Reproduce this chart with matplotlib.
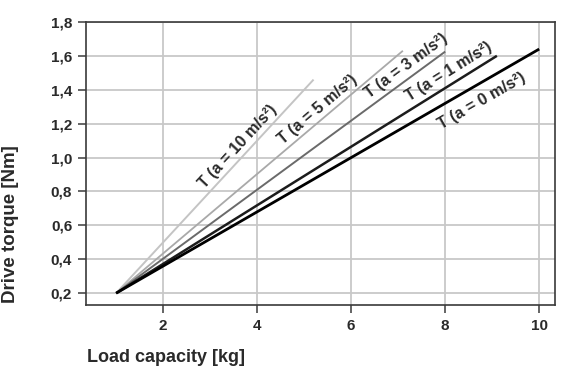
import numpy as np
import matplotlib
matplotlib.use("Agg")
import matplotlib.pyplot as plt

plt.rcParams['font.family'] = ['Liberation Sans', 'DejaVu Sans']

# curves: start / end points
labels = ["T (a = 0 m/s²)", "T (a = 1 m/s²)", "T (a = 3 m/s²)",
          "T (a = 5 m/s²)", "T (a = 10 m/s²)"]
load_start = [1.0, 1.0, 1.0, 1.0, 1.0]
load_end = [10.0, 9.1, 8.0, 7.1, 5.2]
torque_start = [0.2, 0.2, 0.2, 0.2, 0.2]
torque_end = [1.64, 1.60, 1.625, 1.63, 1.46]

xticks = [2, 4, 6, 8, 10]
yticks = [0.2, 0.4, 0.6, 0.8, 1.0, 1.2, 1.4, 1.6, 1.8]
ytick_labels = ["0,2", "0,4", "0,6", "0,8", "1,0", "1,2", "1,4", "1,6", "1,8"]

colors = ["#000000", "#1c1c1c", "#6a6a6a", "#a9a9a9", "#c4c4c4"]
widths = [2.0, 1.8, 1.4, 1.3, 1.4]
label_pos = [(8.77, 1.334), (8.08, 1.505), (7.17, 1.541), (5.28, 1.281), (3.60, 1.068)]

fig = plt.figure(figsize=(5.7, 3.72), dpi=100)
ax = fig.add_axes([0.151, 0.180, 0.823, 0.761])

ax.set_xlim(0.36, 10.34)
ax.set_ylim(0.13, 1.80)
ax.set_xticks(xticks)
ax.set_yticks(yticks)
ax.set_yticklabels(ytick_labels)
ax.grid(True, color="#c8c8c8", linewidth=1.3)
ax.set_axisbelow(True)
for sp in ax.spines.values():
    sp.set_color("#3a3a3a")
    sp.set_linewidth(1.2)
ax.tick_params(direction="out", length=6, width=1.1, color="#3a3a3a",
               labelsize=11, labelcolor="#2a2a2a", pad=4)
for t in ax.get_xticklabels() + ax.get_yticklabels():
    t.set_fontweight("bold")

for i in range(len(labels)):
    ax.plot([load_start[i], load_end[i]], [torque_start[i], torque_end[i]],
            color=colors[i], lw=widths[i], solid_capstyle="butt", zorder=3 + (5 - i))
    slope = (torque_end[i] - torque_start[i]) / (load_end[i] - load_start[i])
    ang = np.degrees(np.arctan(slope))
    ax.text(label_pos[i][0], label_pos[i][1], labels[i], rotation=ang,
            transform_rotates_text=True, rotation_mode="anchor",
            ha="center", va="center", fontsize=11.5, fontweight="bold",
            color="#2a2a2a", zorder=10)

fig.text(0.019, 0.185, "Drive torque [Nm]", rotation=90, ha="center", va="bottom",
         fontsize=13.5, fontweight="bold", color="#2a2a2a")
fig.text(0.152, 0.04, "Load capacity [kg]", ha="left", va="center",
         fontsize=13, fontweight="bold", color="#2a2a2a")

fig.savefig("out.png", dpi=100)
